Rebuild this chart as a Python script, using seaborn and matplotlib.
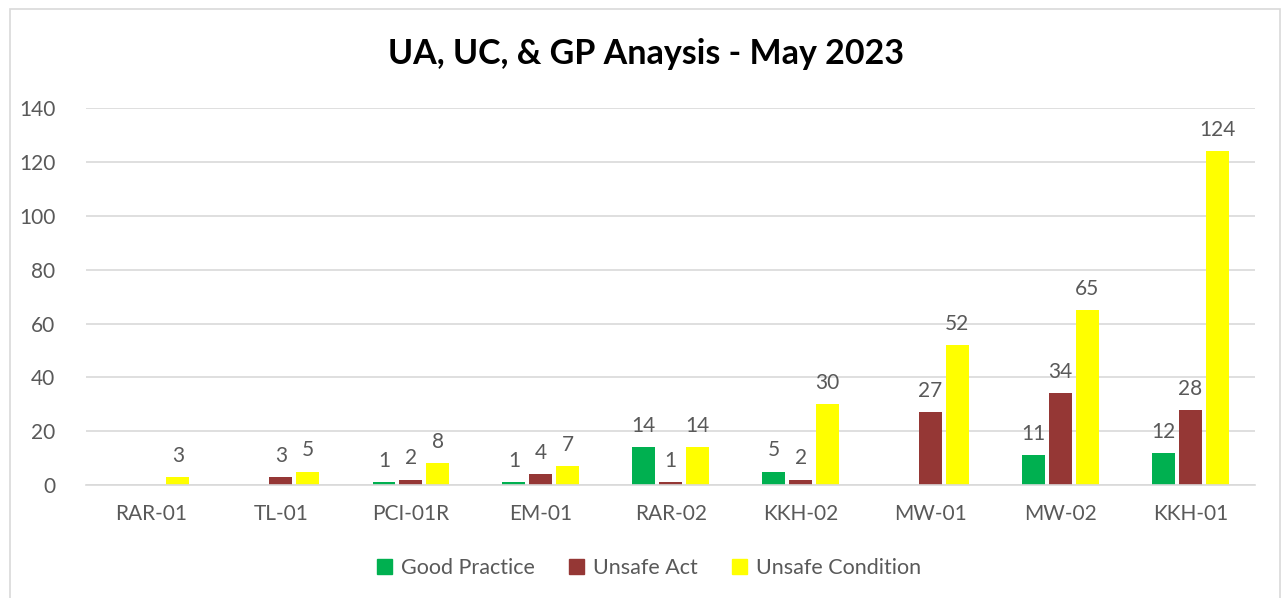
import pandas as pd
import seaborn as sns
import matplotlib.pyplot as plt
from matplotlib.patches import Rectangle

sites = ["RAR-01", "TL-01", "PCI-01R", "EM-01", "RAR-02", "KKH-02", "MW-01", "MW-02", "KKH-01"]
good_practice = [0, 0, 1, 1, 14, 5, 0, 11, 12]
unsafe_act = [0, 3, 2, 4, 1, 2, 27, 34, 28]
unsafe_condition = [3, 5, 8, 7, 14, 30, 52, 65, 124]
series = ["Good Practice", "Unsafe Act", "Unsafe Condition"]
colors = ["#00B050", "#953735", "#FFFF00"]

df = pd.DataFrame({
    "site": sites * 3,
    "count": good_practice + unsafe_act + unsafe_condition,
    "type": [s for s in series for _ in sites],
})

sns.set_style("white")
plt.rcParams["font.family"] = ["Lato", "DejaVu Sans"]
text_col = "#595959"

fig = plt.figure(figsize=(12.85, 5.98), dpi=100)
ax = fig.add_axes([0.0669, 0.189, 0.91, 0.630])

sns.barplot(
    data=df, x="site", y="count", hue="type",
    hue_order=series, order=sites,
    palette=dict(zip(series, colors)), saturation=1,
    width=0.62, gap=0.15, linewidth=0, ax=ax, legend=False,
)

for cont in ax.containers:
    labels = [f"{int(v)}" if v > 0 else "" for v in cont.datavalues]
    ax.bar_label(cont, labels=labels, padding=8, fontsize=15, color=text_col)

ax.set_ylim(0, 140)
ax.set_yticks(range(0, 141, 20))
ax.yaxis.grid(True, color="#D9D9D9", linewidth=1.2)
ax.set_axisbelow(True)
for s in ["top", "right", "left"]:
    ax.spines[s].set_visible(False)
ax.spines["bottom"].set_color("#D9D9D9")
ax.spines["bottom"].set_linewidth(1.2)
ax.tick_params(axis="both", length=0, labelsize=15, labelcolor=text_col)
ax.tick_params(axis="x", pad=14)
ax.tick_params(axis="y", pad=22)
ax.set_xlabel("")
ax.set_ylabel("")

fig.text(0.503, 0.91, "UA, UC, & GP Anaysis - May 2023", ha="center", va="center",
         fontsize=24.5, fontweight="bold", color="black")

handles = [Rectangle((0, 0), 1, 1, color=c) for c in colors]
fig.legend(handles, series, loc="center", bbox_to_anchor=(0.505, 0.05), ncol=3,
           frameon=False, fontsize=15.5, labelcolor=text_col,
           handlelength=0.7, handleheight=0.7, handletextpad=0.4, columnspacing=1.6)

fig.patches.append(Rectangle((10 / 1285, -0.05), 1270 / 1285, 1 - 9 / 598 + 0.05,
                             transform=fig.transFigure, fill=False,
                             edgecolor="#D9D9D9", linewidth=1.2))

fig.savefig("out.png", dpi=100)
